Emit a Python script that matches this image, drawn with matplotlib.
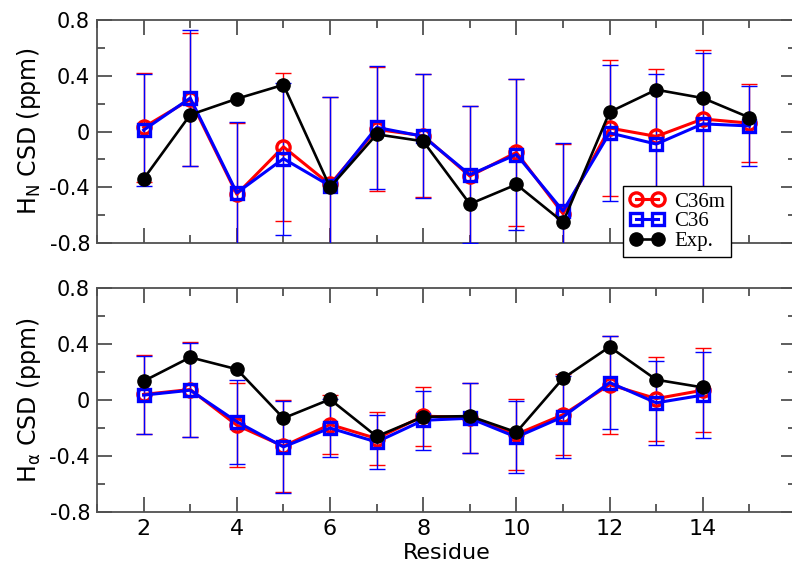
import numpy as np
import matplotlib
matplotlib.use("Agg")
from matplotlib import pyplot as plt
from matplotlib.ticker import MultipleLocator, FuncFormatter

plt.rcParams['font.family'] = ['DejaVu Sans']
plt.rcParams['mathtext.default'] = 'regular'

# residues
res_hn = [2, 3, 4, 5, 6, 7, 8, 9, 10, 11, 12, 13, 14, 15]
res_ha = [2, 3, 4, 5, 6, 7, 8, 9, 10, 11, 12, 13, 14]

# H_N chemical shift deviations (ppm)
hn_c36m = [0.03, 0.23, -0.45, -0.11, -0.38, 0.015, -0.03, -0.32, -0.15, -0.59, 0.025, -0.035, 0.09, 0.06]
hn_c36m_err = [0.39, 0.48, 0.51, 0.53, 0.63, 0.445, 0.44, 0.50, 0.53, 0.50, 0.49, 0.485, 0.495, 0.28]
hn_c36 = [0.01, 0.24, -0.44, -0.195, -0.39, 0.03, -0.035, -0.31, -0.165, -0.57, -0.01, -0.09, 0.055, 0.04]
hn_c36_err = [0.40, 0.485, 0.505, 0.545, 0.635, 0.44, 0.445, 0.49, 0.54, 0.49, 0.49, 0.50, 0.505, 0.285]
hn_exp = [-0.34, 0.12, 0.235, 0.335, -0.40, -0.02, -0.07, -0.52, -0.38, -0.65, 0.14, 0.30, 0.24, 0.10]

# H_alpha chemical shift deviations (ppm)
ha_c36m = [0.04, 0.075, -0.18, -0.33, -0.175, -0.275, -0.115, -0.125, -0.245, -0.105, 0.11, 0.01, 0.07]
ha_c36m_err = [0.28, 0.34, 0.30, 0.33, 0.21, 0.19, 0.21, 0.25, 0.255, 0.29, 0.35, 0.30, 0.30]
ha_c36 = [0.035, 0.07, -0.155, -0.335, -0.20, -0.30, -0.145, -0.13, -0.265, -0.12, 0.125, -0.02, 0.035]
ha_c36_err = [0.28, 0.335, 0.30, 0.33, 0.21, 0.19, 0.21, 0.25, 0.255, 0.295, 0.33, 0.30, 0.305]
ha_exp = [0.135, 0.305, 0.22, -0.13, 0.005, -0.26, -0.12, -0.115, -0.23, 0.155, 0.38, 0.145, 0.09]

RED = '#ff0000'
BLUE = '#0000ff'
SPINE = '#505050'


def ytick_fmt(v, pos):
    if abs(v) < 1e-9:
        return '0'
    return f'{v:.1f}'


def xtick_fmt(v, pos):
    # the last major tick (16) sits on the clipped right edge, no label there
    if v > 15:
        return ''
    return f'{v:.0f}'


def draw_panel(ax, x, c36m, c36m_err, c36, c36_err, exp):
    ax.errorbar(x, c36m, yerr=c36m_err, fmt='none', ecolor=RED, elinewidth=1.0,
                capsize=5.5, capthick=1.0, zorder=2)
    ax.errorbar(x, c36, yerr=c36_err, fmt='none', ecolor=BLUE, elinewidth=1.0,
                capsize=5.5, capthick=1.0, zorder=3)
    ax.plot(x, c36m, color=RED, lw=2.2, marker='o', ms=9.5, mfc='none', mec=RED,
            mew=2.4, label='C36m', zorder=4)
    ax.plot(x, c36, color=BLUE, lw=2.2, marker='s', ms=8.5, mfc='none', mec=BLUE,
            mew=2.4, label='C36', zorder=5)
    ax.plot(x, exp, color='black', lw=1.9, marker='o', ms=9.5, mfc='black', mec='black',
            label='Exp.', zorder=6)

    ax.set_xlim(1, 16)
    ax.set_ylim(-0.8, 0.8)
    ax.xaxis.set_major_locator(MultipleLocator(2))
    ax.xaxis.set_minor_locator(MultipleLocator(1))
    ax.xaxis.set_major_formatter(FuncFormatter(xtick_fmt))
    ax.yaxis.set_major_locator(MultipleLocator(0.4))
    ax.yaxis.set_minor_locator(MultipleLocator(0.2))
    ax.yaxis.set_major_formatter(FuncFormatter(ytick_fmt))
    ax.tick_params(which='both', direction='in', top=True, right=True, color=SPINE, width=1.3)
    ax.tick_params(which='major', length=11)
    ax.tick_params(which='minor', length=6)
    ax.tick_params(axis='y', labelsize=15, pad=5)
    ax.tick_params(axis='x', labelsize=16, pad=5)
    for s in ax.spines.values():
        s.set_color(SPINE)
        s.set_linewidth(1.3)


fig = plt.figure(figsize=(7.92, 5.67), dpi=100)
ax1 = fig.add_axes([0.1225, 0.5714, 0.8826, 0.3933])
ax2 = fig.add_axes([0.1225, 0.0970, 0.8826, 0.3950])

draw_panel(ax1, res_hn, hn_c36m, hn_c36m_err, hn_c36, hn_c36_err, hn_exp)
draw_panel(ax2, res_ha, ha_c36m, ha_c36m_err, ha_c36, ha_c36_err, ha_exp)

ax1.tick_params(axis='x', labelbottom=False)
ax1.set_ylabel('H$_N$ CSD (ppm)', fontsize=17, labelpad=5)
ax2.set_ylabel(r'H$_\alpha$ CSD (ppm)', fontsize=17, labelpad=5)
ax2.set_xlabel('Residue', fontsize=16, labelpad=3)
fig.align_ylabels([ax1, ax2])

leg = ax1.legend(loc='lower left', bbox_to_anchor=(0.7525, -0.063), numpoints=2,
                 prop={'family': 'Liberation Serif', 'size': 15}, frameon=True,
                 fancybox=False, framealpha=1, edgecolor='black', borderpad=0.3,
                 labelspacing=0.0, handlelength=1.7, handletextpad=0.45,
                 borderaxespad=0)
leg.get_frame().set_linewidth(1.0)
leg.set_zorder(10)

fig.savefig('out.png', dpi=100)
